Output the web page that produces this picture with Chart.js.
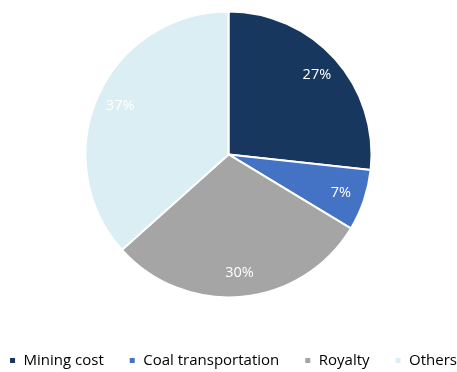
<!DOCTYPE html>
<html>
<head>
<meta charset="utf-8">
<script src="https://cdn.jsdelivr.net/npm/chart.js@4.4.1/dist/chart.umd.min.js"></script>
<style>
  html, body { margin: 0; padding: 0; background: #fff; }
  #wrap { width: 457px; height: 372px; }
</style>
</head>
<body>
<div id="wrap"><canvas id="costChart"></canvas></div>
<script>
var categories = ['Mining cost', 'Coal transportation', 'Royalty', 'Others'];
var shares = [27, 7, 30, 37];
var colors = ['#17375E', '#4472C4', '#A5A5A5', '#DAEEF3'];

// percentage labels drawn inside each slice
var sliceLabels = {
    id: 'sliceLabels',
    afterDatasetsDraw: function(chart) {
        var ctx = chart.ctx;
        var meta = chart.getDatasetMeta(0);
        ctx.save();
        ctx.font = '14.5px "Open Sans"';
        ctx.fillStyle = '#ffffff';
        ctx.textAlign = 'center';
        ctx.textBaseline = 'middle';
        meta.data.forEach(function(arc, i) {
            var p = arc.getProps(['x', 'y', 'startAngle', 'endAngle', 'outerRadius'], true);
            var mid = (p.startAngle + p.endAngle) / 2;
            var r = p.outerRadius * 0.83;
            ctx.fillText(shares[i] + '%', p.x + Math.cos(mid) * r, p.y + Math.sin(mid) * r);
        });
        ctx.restore();
    }
};

var ctx = document.getElementById('costChart').getContext('2d');
var costChart = new Chart(ctx, {
    type: 'pie',
    data: {
        labels: categories,
        datasets: [{
            data: shares,
            backgroundColor: colors,
            borderColor: '#ffffff',
            borderWidth: 2,
            radius: 143
        }]
    },
    options: {
        responsive: true,
        maintainAspectRatio: false,
        animation: false,
        // negative side padding keeps the legend on a single row
        layout: { padding: { top: 0, bottom: -6, left: -22, right: -31 } },
        plugins: {
            tooltip: { enabled: false },
            legend: {
                position: 'bottom',
                // empty title only adds a gap above the legend row
                title: { display: true, text: '', padding: 0, font: { size: 16 } },
                labels: {
                    boxWidth: 7,
                    boxHeight: 7,
                    padding: 25,
                    color: '#000000',
                    font: { family: 'Open Sans', size: 15 }
                }
            }
        }
    },
    plugins: [sliceLabels]
});
</script>
</body>
</html>
